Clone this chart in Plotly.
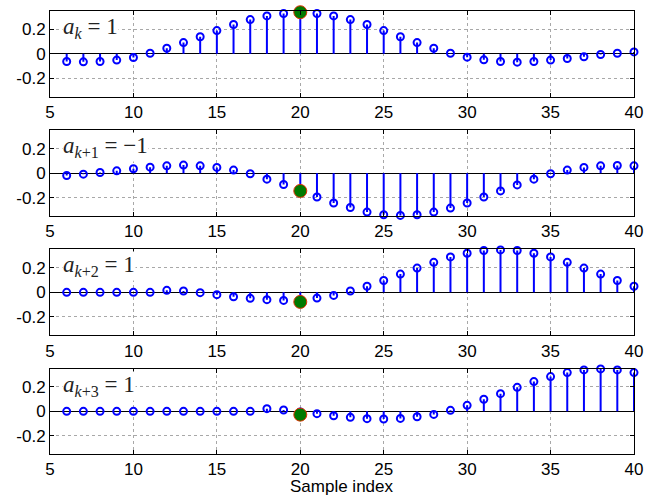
import plotly.graph_objects as go

x = list(range(6, 41))

y_ak0 = [-0.062, -0.065, -0.062, -0.051, -0.030, 0.005, 0.046, 0.092, 0.14, 0.19,
         0.24, 0.28, 0.31, 0.33, 0.34, 0.33, 0.31, 0.28, 0.24, 0.19,
         0.14, 0.092, 0.046, 0.005, -0.027, -0.049, -0.062, -0.068, -0.062, -0.051,
         -0.038, -0.024, -0.005, 0.005, 0.016]
y_ak1 = [-0.019, -0.008, 0.005, 0.019, 0.036, 0.049, 0.06, 0.066, 0.06, 0.047,
         0.025, -0.005, -0.049, -0.093, -0.145, -0.195, -0.244, -0.28, -0.318, -0.34,
         -0.345, -0.34, -0.318, -0.285, -0.244, -0.195, -0.145, -0.096, -0.049, -0.005,
         0.025, 0.047, 0.06, 0.063, 0.06]
y_ak2 = [0.0, 0.0, 0.0, 0.0, 0.0, 0.0, 0.016, 0.011, -0.003, -0.019,
         -0.036, -0.049, -0.06, -0.066, -0.062, -0.047, -0.025, 0.011, 0.049, 0.096,
         0.148, 0.197, 0.244, 0.288, 0.318, 0.34, 0.345, 0.34, 0.318, 0.288,
         0.244, 0.197, 0.148, 0.096, 0.049]
y_ak3 = [0.0, 0.0, 0.0, 0.0, 0.0, 0.0, 0.0, 0.0, 0.0, 0.0,
         0.0, 0.0, 0.022, 0.011, -0.005, -0.019, -0.036, -0.049, -0.06, -0.063,
         -0.058, -0.044, -0.025, 0.008, 0.049, 0.099, 0.145, 0.197, 0.244, 0.285,
         0.318, 0.34, 0.348, 0.34, 0.318]

series = [y_ak0, y_ak1, y_ak2, y_ak3]
green_x = 20
green_y = [0.34, -0.145, -0.078, -0.027]
labels = ["<i>a</i><sub><i>k</i></sub> = 1",
          "<i>a</i><sub><i>k</i>+1</sub> = \u22121",
          "<i>a</i><sub><i>k</i>+2</sub> = 1",
          "<i>a</i><sub><i>k</i>+3</sub> = 1"]
x_ticks = [5, 10, 15, 20, 25, 30, 35, 40]
y_ticks = [-0.2, 0, 0.2]
y_ticktext = ["-0.2", "0", "0.2"]
x_title = "Sample index"

domains = [[0.8065, 1.0], [0.5372, 0.7307], [0.2679, 0.4621], [0.0, 0.1926]]

fig = go.Figure()
tickfont = dict(family="Liberation Sans, Arial, sans-serif", size=17, color="black")

for i, ys in enumerate(series):
    n = i + 1
    xa = "x" if n == 1 else f"x{n}"
    ya = "y" if n == 1 else f"y{n}"
    sx, sy = [], []
    for xi, yi in zip(x, ys):
        sx += [xi, xi, None]
        sy += [0, yi, None]
    fig.add_trace(go.Scatter(x=sx, y=sy, mode="lines", line=dict(color="#0000ff", width=2),
                             xaxis=xa, yaxis=ya, showlegend=False, hoverinfo="skip",
                             cliponaxis=False))
    fig.add_trace(go.Scatter(x=x, y=ys, mode="markers",
                             marker=dict(symbol="circle-open", size=7, color="#0000ff",
                                         line=dict(width=2, color="#0000ff")),
                             xaxis=xa, yaxis=ya, showlegend=False, cliponaxis=False))
    fig.add_trace(go.Scatter(x=[green_x], y=[green_y[i]], mode="markers",
                             marker=dict(symbol="circle", size=13, color="#007a00",
                                         line=dict(width=1, color="#e03000")),
                             xaxis=xa, yaxis=ya, showlegend=False, cliponaxis=False))
    ax_common = dict(showline=True, linecolor="black", linewidth=1, mirror="ticks",
                     ticks="inside", ticklen=4, tickcolor="black",
                     showgrid=True, gridcolor="#a8a8a8", griddash="dot", gridwidth=1,
                     tickfont=tickfont, automargin=False)
    fig.layout[f"xaxis{'' if n == 1 else n}"] = dict(
        ax_common, range=[5, 40], tickvals=x_ticks, anchor=ya,
        zeroline=False, domain=[0, 1], ticklabelstandoff=0)
    fig.layout[f"yaxis{'' if n == 1 else n}"] = dict(
        ax_common, range=[-0.35, 0.35], tickvals=y_ticks, ticktext=y_ticktext,
        anchor=xa, domain=domains[i], zeroline=True, zerolinecolor="black",
        zerolinewidth=1)
    fig.add_annotation(text=labels[i], xref=f"{xa} domain", yref=f"{ya} domain",
                       x=0.02, y=0.80, xanchor="left", yanchor="middle", showarrow=False,
                       font=dict(family="Liberation Serif, Times New Roman, serif",
                                 size=23, color="#222222"),
                       bgcolor="white", borderpad=0)

fig.add_annotation(text=x_title, xref="paper", yref="paper", x=0.5, y=-0.073,
                   xanchor="center", yanchor="middle", showarrow=False,
                   font=dict(family="Liberation Sans, Arial, sans-serif", size=17,
                             color="black"))

fig.update_layout(width=645, height=496, margin=dict(l=50, r=11, t=11, b=42),
                  paper_bgcolor="white", plot_bgcolor="white")

fig.write_html("out.html")
